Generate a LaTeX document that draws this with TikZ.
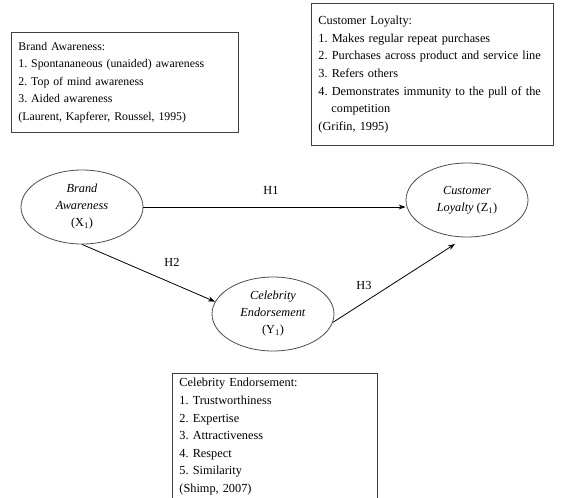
\documentclass[tikz,border=0pt]{standalone}
\usepackage{fontspec}
\setmainfont{Liberation Serif}
\usetikzlibrary{arrows.meta, positioning, shapes.geometric}

\begin{document}
\begin{tikzpicture}[x=1pt,y=-1pt,
  infobox/.style={draw=black!75,line width=0.9pt,anchor=north west,align=left,
                  inner xsep=7pt,inner ysep=5pt,
                  font=\fontsize{12.3}{17.6}\selectfont\frenchspacing},
  construct/.style={ellipse,draw=black!70,line width=0.8pt,minimum width=122pt,
                    minimum height=74pt,align=center,inner sep=0pt,
                    font=\fontsize{12.3}{17}\selectfont},
  arr/.style={-{Stealth[length=7pt,width=5pt]},line width=0.8pt},
  hyp/.style={font=\fontsize{12.3}{14}\selectfont}
]
\useasboundingbox (0,0) rectangle (561,497);

% Indicator boxes
\node[infobox,text width=213pt,minimum height=100pt,
      font=\fontsize{11.8}{17.4}\selectfont\frenchspacing] (BAbox) at (11,32)
  {Brand Awareness:\\
   1. Spontananeous (unaided) awareness\\
   2. Top of mind awareness\\
   3. Aided awareness\\
   (Laurent, Kapferer, Roussel, 1995)};
\node[infobox,text width=228pt,minimum height=142pt] (CLbox) at (311,3)
  {Customer Loyalty:\\
   1. Makes regular repeat purchases\\
   \mbox{2. Purchases across product and service line}\\
   3. Refers others\\
   \mbox{4. Demonstrates immunity to the pull of the}\\
   \hspace*{13pt}competition\\
   (Grifin, 1995)};
\node[infobox,text width=191pt] (CEbox) at (172,373)
  {Celebrity Endorsement:\\
   1. Trustworthiness\\
   2. Expertise\\
   3. Attractiveness\\
   4. Respect\\
   5. Similarity\\
   (Shimp, 2007)};

% Constructs
\node[construct] (BA) at (82,207) {\textit{Brand}\\\textit{Awareness}\\(X\textsubscript{1})};
\node[construct] (CL) at (467,200) {\textit{Customer}\\\textit{Loyalty} (Z\textsubscript{1})};
\node[construct] (CE) at (273,314) {\textit{Celebrity}\\\textit{Endorsement}\\(Y\textsubscript{1})};

% Hypotheses
\coordinate (h3tip) at (455,244);
\draw[arr] (BA.east) -- (BA.east -| CL.west);
\draw[arr] (BA.south) -- (CE.168);
\draw[arr] (CE.-8) -- (h3tip);
\node[hyp] (H1) at (271,190) {H1};
\node[hyp] (H2) at (172,262) {H2};
\node[hyp] (H3) at (364,285) {H3};
\end{tikzpicture}
\end{document}
